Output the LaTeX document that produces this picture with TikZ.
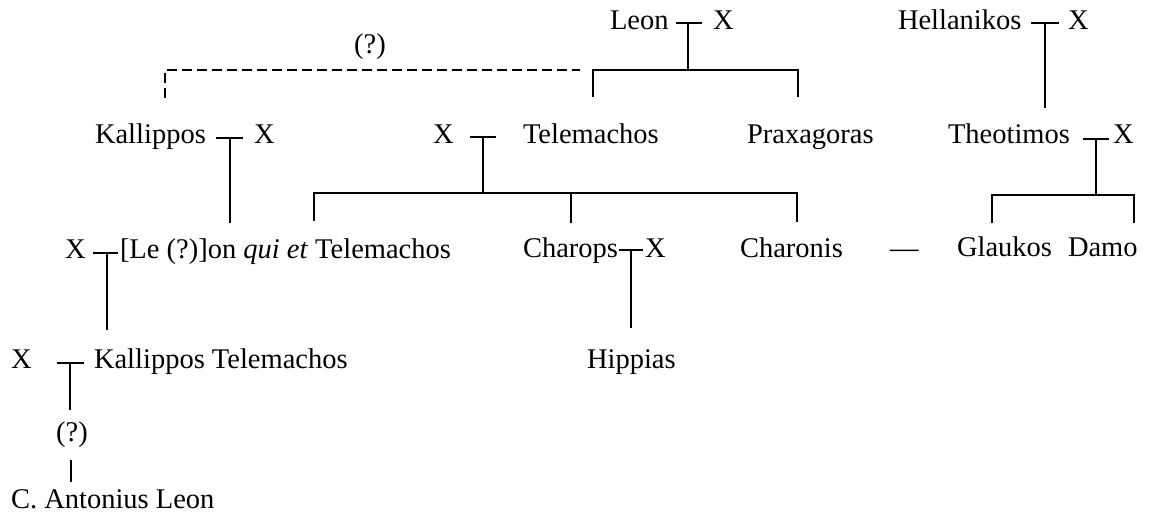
\documentclass[tikz,border=0pt]{standalone}
\usepackage{fontspec}
\setmainfont{Liberation Serif}
\begin{document}
\begin{tikzpicture}[x=0.5pt,y=-0.5pt,
  person/.style={inner sep=0pt,outer sep=0pt,anchor=base west,font=\fontsize{14.25}{17}\selectfont},
  rel/.style={line width=1.2pt},
  unsure/.style={line width=1.2pt,dash pattern=on 5pt off 2.5pt}]
\useasboundingbox (0,0) rectangle (1150,514);

% ---- names ----
\node[person] (leon) at (610,29) {Leon};
\node[person] (leonX) at (713,29) {X};
\node[person] (hell) at (898,29) {Hellanikos};
\node[person] (hellX) at (1068,29) {X};
\node[person,anchor=base] (q1) at (370,53) {(?)};

\node[person] (kal) at (95,143) {Kallippos};
\node[person] (kalX) at (254,143) {X};
\node[person] (telX) at (433,143) {X};
\node[person] (tel) at (523,143) {Telemachos};
\node[person] (prax) at (747,143) {Praxagoras};
\node[person] (theo) at (948,143) {Theotimos};
\node[person] (theoX) at (1113,143) {X};

\node[person] (lX) at (65,258) {X};
\node[person] (leon2) at (120,258) {[Le (?)]on \textit{qui et} Telemachos};
\node[person] (charops) at (523,257) {Charops};
\node[person] (charX) at (645,257) {X};
\node[person] (charonis) at (740,257) {Charonis};
\node[person] (dash) at (890,257) {—};
\node[person] (glau) at (957,256) {Glaukos};
\node[person] (damo) at (1068,256) {Damo};

\node[person] (kX) at (11,368) {X};
\node[person] (kt) at (94,368) {Kallippos Telemachos};
\node[person] (hipp) at (587,368) {Hippias};
\node[person,anchor=base] (q2) at (72,441) {(?)};
\node[person] (cal) at (11,508) {C. Antonius Leon};

% ---- junction points ----
\coordinate (m1a) at (676,23); \coordinate (m1b) at (702,23); \coordinate (m1) at (688,23);
\coordinate (b1) at (688,70); \coordinate (b1l) at (593,70); \coordinate (b1r) at (798,70);
\coordinate (c1l) at (593,97); \coordinate (c1r) at (798,97);
\coordinate (d1) at (580,70); \coordinate (d2) at (165,70); \coordinate (d3) at (165,98);

\coordinate (m2a) at (1031,23); \coordinate (m2b) at (1059,23); \coordinate (m2) at (1045,23);
\coordinate (c2) at (1045,108);

\coordinate (m3a) at (216,138); \coordinate (m3b) at (243,138); \coordinate (m3) at (230,138);
\coordinate (c3) at (230,223);

\coordinate (m4a) at (470,137); \coordinate (m4b) at (496,137); \coordinate (m4) at (483,137);
\coordinate (b4) at (483,193); \coordinate (b4l) at (314,193); \coordinate (b4m) at (571,193); \coordinate (b4r) at (797,193);
\coordinate (c4l) at (314,221); \coordinate (c4m) at (571,223); \coordinate (c4r) at (797,222);

\coordinate (m5a) at (1083,139); \coordinate (m5b) at (1109,139); \coordinate (m5) at (1096,139);
\coordinate (b5) at (1096,195); \coordinate (b5l) at (992,195); \coordinate (b5r) at (1134,195);
\coordinate (c5l) at (992,223); \coordinate (c5r) at (1134,223);

\coordinate (m6a) at (93,253); \coordinate (m6b) at (118,253); \coordinate (m6) at (107,253);
\coordinate (c6) at (107,330);

\coordinate (m7a) at (619,250); \coordinate (m7b) at (643,250); \coordinate (m7) at (631,250);
\coordinate (c7) at (631,328);

\coordinate (m8a) at (57,363); \coordinate (m8b) at (84,363); \coordinate (m8) at (70,363);
\coordinate (c8) at (70,410);
\coordinate (c9a) at (71,460); \coordinate (c9b) at (71,482);

% ---- connectors ----
\draw[rel] (m1a) -- (m1b);
\draw[rel] (m1) -- (b1);
\draw[rel] (c1l) -- (b1l) -- (b1r) -- (c1r);
\draw[unsure] (d3) -- (d2) -- (d1);

\draw[rel] (m2a) -- (m2b);
\draw[rel] (m2) -- (c2);

\draw[rel] (m3a) -- (m3b);
\draw[rel] (m3) -- (c3);

\draw[rel] (m4a) -- (m4b);
\draw[rel] (m4) -- (b4);
\draw[rel] (c4l) -- (b4l) -- (b4r) -- (c4r);
\draw[rel] (b4m) -- (c4m);

\draw[rel] (m5a) -- (m5b);
\draw[rel] (m5) -- (b5);
\draw[rel] (c5l) -- (b5l) -- (b5r) -- (c5r);

\draw[rel] (m6a) -- (m6b);
\draw[rel] (m6) -- (c6);

\draw[rel] (m7a) -- (m7b);
\draw[rel] (m7) -- (c7);

\draw[rel] (m8a) -- (m8b);
\draw[rel] (m8) -- (c8);
\draw[rel] (c9a) -- (c9b);
\end{tikzpicture}
\end{document}
